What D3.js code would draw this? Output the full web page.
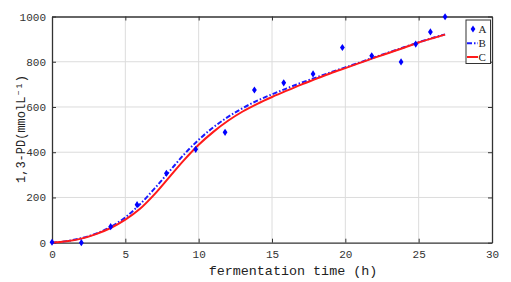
<!DOCTYPE html>
<html><head><meta charset="utf-8">
<script src="https://cdn.jsdelivr.net/npm/d3@7"></script>
<style>body{margin:0;background:#fff}svg{display:block}</style>
</head><body><svg id="c" width="511" height="282"></svg>
<script>
const xTicks=[0,5,10,15,20,25,30];
const yTicks=[0,200,400,600,800,1000];
const obsX=[0,2,4,5.8,7.8,9.8,11.8,13.8,15.8,17.8,19.8,21.8,23.8,24.8,25.8,26.8];
const obsA=[2,0,71,168,307,413,488,675,707,746,863,826,799,878,932,999];
const fitX=[0,1,2,3,4,5,6,7,8,9,10,11,12,13,14,15,16,17,18,19,20,21,22,23,24,25,26,26.8];
const fitB=[0,7,20,40,70,112,170,240,315,390,455,510,556,595,628,656,682,707,730,753,775,797,820,842,864,886,906,921];
const fitC=[0,6,18,38,65,102,150,215,290,365,433,490,539,580,614,644,672,699,724,749,772,795,818,840,862,885,905,920];
const legend=["A","B","C"];

const svg=d3.select("#c");
const L=52,R=492,T=16.5,B=242.7;
const x=d3.scaleLinear().domain([0,30]).range([L,R]);
const y=d3.scaleLinear().domain([0,1000]).range([B,T]);
const mono="'Liberation Mono','DejaVu Sans Mono',monospace";

// grid
svg.append("g").selectAll("line").data(xTicks.slice(1,-1)).join("line")
 .attr("x1",d=>x(d)).attr("x2",d=>x(d)).attr("y1",T).attr("y2",B)
 .attr("stroke","#dcdcdc").attr("stroke-width",1);
svg.append("g").selectAll("line").data(yTicks.slice(1,-1)).join("line")
 .attr("y1",d=>y(d)).attr("y2",d=>y(d)).attr("x1",L).attr("x2",R)
 .attr("stroke","#dcdcdc").attr("stroke-width",1);

// axes
const ax=svg.append("g").attr("transform",`translate(0,${B})`)
 .call(d3.axisBottom(x).tickValues(xTicks).tickSize(-4).tickPadding(8).tickSizeOuter(0).tickFormat(d3.format("d")));
const axT=svg.append("g").attr("transform",`translate(0,${T})`)
 .call(d3.axisTop(x).tickValues(xTicks).tickSize(-4).tickFormat("").tickSizeOuter(0));
const ay=svg.append("g").attr("transform",`translate(${L},0)`)
 .call(d3.axisLeft(y).tickValues(yTicks).tickSize(-4).tickPadding(6).tickSizeOuter(0).tickFormat(d3.format("d")));
const ayR=svg.append("g").attr("transform",`translate(${R},0)`)
 .call(d3.axisRight(y).tickValues(yTicks).tickSize(-4).tickFormat("").tickSizeOuter(0));
[ax,axT,ay,ayR].forEach(g=>{
 g.select(".domain").attr("stroke","#333").attr("stroke-width",1.3);
 g.selectAll(".tick line").attr("stroke","#333");
 g.selectAll("text").attr("font-family",mono).attr("font-size",11).attr("fill","#333");
});

// curves
const line=d3.line().x(d=>x(d[0])).y(d=>y(d[1])).curve(d3.curveCatmullRom.alpha(0.5));
svg.append("path").datum(fitX.map((v,i)=>[v,fitB[i]])).attr("d",line)
 .attr("fill","none").attr("stroke","#1a1aff").attr("stroke-width",2).attr("stroke-dasharray","5,2,1.5,2");
svg.append("path").datum(fitX.map((v,i)=>[v,fitC[i]])).attr("d",line)
 .attr("fill","none").attr("stroke","#ff1a1a").attr("stroke-width",2);

// markers
const dia="M0,-3.6L2.4,0L0,3.6L-2.4,0Z";
svg.append("g").selectAll("path").data(obsX.map((v,i)=>[v,obsA[i]])).join("path")
 .attr("d",dia).attr("transform",d=>`translate(${x(d[0])},${y(d[1])})`).attr("fill","#0000ff");

// legend
const lg=svg.append("g");
lg.append("rect").attr("x",466).attr("y",20).attr("width",24.5).attr("height",43.5)
 .attr("fill","#fff").attr("stroke","#333").attr("stroke-width",1);
const ly=[29,43.3,57];
lg.append("path").attr("d",dia).attr("transform",`translate(473,${ly[0]})`).attr("fill","#0000ff");
lg.append("line").attr("x1",467).attr("x2",478).attr("y1",ly[1]).attr("y2",ly[1])
 .attr("stroke","#1a1aff").attr("stroke-width",2).attr("stroke-dasharray","5,2,1.5,2");
lg.append("line").attr("x1",467).attr("x2",478).attr("y1",ly[2]).attr("y2",ly[2])
 .attr("stroke","#ff1a1a").attr("stroke-width",2);
lg.selectAll("text").data(legend).join("text").attr("x",478.5).attr("y",(d,i)=>ly[i]+4)
 .attr("font-family","'Liberation Serif','DejaVu Serif',serif").attr("font-size",11).attr("fill","#222").text(d=>d);

// axis labels
svg.append("text").attr("x",293).attr("y",275).attr("text-anchor","middle")
 .attr("font-family",mono).attr("font-size",13.4).attr("fill","#222").text("fermentation time (h)");
svg.append("text").attr("transform","translate(25,129) rotate(-90)").attr("text-anchor","middle")
 .attr("font-family",mono).attr("font-size",12).attr("fill","#222").text("1,3-PD(mmolL⁻¹)");
</script></body></html>
